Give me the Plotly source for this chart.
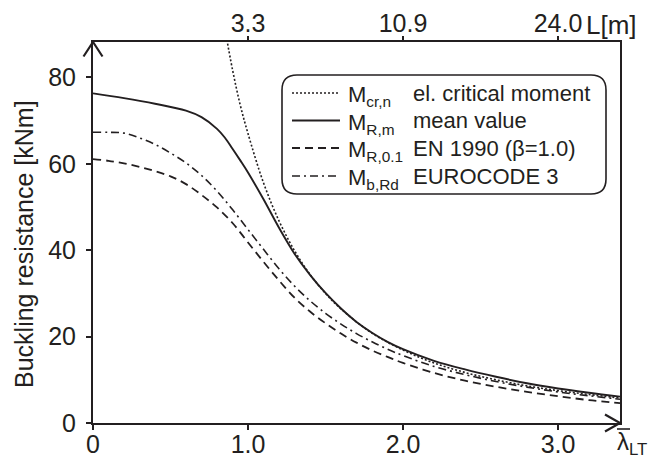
import plotly.graph_objects as go

# ---------------- data ----------------
lam_cr = [0.85, 0.9, 0.95, 1.0, 1.1, 1.2, 1.3, 1.4, 1.5, 1.6, 1.8, 2.0, 2.2, 2.4, 2.6, 2.8, 3.0, 3.2, 3.4]
m_cr = [91.5, 81.8, 73.6, 67.0, 55.6, 46.8, 39.9, 34.4, 30.0, 26.4, 20.8, 16.9, 13.9, 11.7, 10.0, 8.6, 7.5, 6.6, 5.8]

lam_m = [0, 0.2, 0.4, 0.6, 0.7, 0.8, 0.85, 0.9, 0.95, 1.0, 1.1, 1.2, 1.3, 1.4, 1.5, 1.6, 1.7, 1.8, 1.9,
         2.0, 2.2, 2.4, 2.6, 2.8, 3.0, 3.2, 3.4]
m_m = [76.3, 75.2, 73.9, 72.3, 70.8, 68.1, 66.1, 63.5, 60.8, 58.0, 51.8, 45.2, 39.2, 34.3, 30.1, 26.5,
       23.4, 20.9, 18.8, 17.1, 14.4, 12.4, 10.7, 9.2, 8.0, 7.0, 6.1]

lam_ec = [0, 0.1, 0.2, 0.3, 0.4, 0.5, 0.6, 0.7, 0.8, 0.9, 1.0, 1.1, 1.2, 1.3, 1.4, 1.5, 1.6, 1.7, 1.8,
          1.9, 2.0, 2.2, 2.4, 2.6, 2.8, 3.0, 3.2, 3.4]
m_brd = [67.3, 67.3, 67.1, 66.0, 64.5, 62.5, 60.2, 57.3, 53.7, 49.4, 44.8, 40.2, 35.7, 31.7, 28.3, 25.4,
         22.9, 20.7, 18.8, 17.1, 15.6, 13.1, 11.2, 9.6, 8.3, 7.2, 6.3, 5.5]
m_r01 = [61.1, 60.7, 60.1, 59.3, 58.3, 57.1, 55.3, 52.8, 49.9, 46.3, 41.8, 37.3, 33.0, 29.0, 25.8, 23.1,
         20.7, 18.6, 16.8, 15.3, 13.9, 11.6, 9.8, 8.4, 7.2, 6.2, 5.3, 4.6]

x_ticks = [0, 1, 2, 3]
x_ticktext = ["0", "1.0", "2.0", "3.0"]
top_ticks = [1, 2, 3]
top_ticktext = ["3.3", "10.9", "24.0"]
y_ticks = [0, 20, 40, 60, 80]

legend_symbols = ["M<sub>cr,n</sub>", "M<sub>R,m</sub>", "M<sub>R,0.1</sub>", "M<sub>b,Rd</sub>"]
legend_texts = ["el. critical moment", "mean value", "EN 1990 (β=1.0)", "EUROCODE 3"]

# ---------------- styling ----------------
W, H = 667, 460
L, R, T, B = 93, 47, 42, 37
PW, PH = W - L - R, H - T - B
INK = "#231f20"
FONT = "Liberation Sans, Arial, sans-serif"

DOT = "2px,2px"
DASH = "8px,5px"
DASHDOT = "8px,4px,2px,4px"
styles = [dict(dash=DOT, width=1.6), dict(dash="solid", width=1.9),
          dict(dash=DASH, width=1.8), dict(dash=DASHDOT, width=1.6)]


def px(x):
    return (x - L) / PW


def py(y):
    return (H - B - y) / PH


fig = go.Figure()
fig.add_trace(go.Scatter(x=lam_cr, y=m_cr, mode="lines", line=dict(color=INK, shape="spline", **styles[0]),
                         xaxis="x2", showlegend=False, hoverinfo="skip"))
fig.add_trace(go.Scatter(x=lam_m, y=m_m, mode="lines", line=dict(color=INK, shape="spline", **styles[1]),
                         showlegend=False))
fig.add_trace(go.Scatter(x=lam_ec, y=m_r01, mode="lines", line=dict(color=INK, shape="spline", **styles[2]),
                         showlegend=False))
fig.add_trace(go.Scatter(x=lam_ec, y=m_brd, mode="lines", line=dict(color=INK, shape="spline", **styles[3]),
                         showlegend=False))

axis_common = dict(showgrid=False, zeroline=False, linecolor=INK, linewidth=2, ticks="outside",
                   ticklen=5, tickwidth=1.5, tickcolor=INK, automargin=False,
                   tickfont=dict(family=FONT, size=25, color=INK))

fig.update_layout(
    width=W, height=H, margin=dict(l=L, r=R, t=T, b=B, autoexpand=False),
    paper_bgcolor="white", plot_bgcolor="white",
    xaxis=dict(range=[0, 3.4], tickvals=x_ticks, ticktext=x_ticktext, showline=True, mirror=True,
               ticklabelstandoff=-7, **axis_common),
    xaxis2=dict(range=[0, 3.4], overlaying="x", side="top", tickvals=top_ticks, ticktext=top_ticktext,
                showline=False, ticklabelstandoff=-6, **axis_common),
    yaxis=dict(range=[0, 88.2], tickvals=y_ticks, showline=True, mirror=True,
               ticklabelstandoff=5, **axis_common),
    showlegend=False,
)

shapes = []
# axis arrows
shapes.append(dict(type="path", xref="paper", yref="paper",
                   path=f"M {px(83.5)} {py(56.5)} L {px(93)} {py(42)} L {px(102.5)} {py(56.5)}",
                   line=dict(color=INK, width=2.2)))
shapes.append(dict(type="path", xref="paper", yref="paper",
                   path=f"M {px(605)} {py(414.5)} L {px(620)} {py(423)} L {px(605)} {py(431.5)}",
                   line=dict(color=INK, width=2.2)))

# legend box with rounded corners
bx0, bx1, by0, by1, r = 282, 606, 75, 194, 15
path = (f"M {px(bx0 + r)} {py(by0)} L {px(bx1 - r)} {py(by0)} "
        f"Q {px(bx1)} {py(by0)} {px(bx1)} {py(by0 + r)} L {px(bx1)} {py(by1 - r)} "
        f"Q {px(bx1)} {py(by1)} {px(bx1 - r)} {py(by1)} L {px(bx0 + r)} {py(by1)} "
        f"Q {px(bx0)} {py(by1)} {px(bx0)} {py(by1 - r)} L {px(bx0)} {py(by0 + r)} "
        f"Q {px(bx0)} {py(by0)} {px(bx0 + r)} {py(by0)} Z")
shapes.append(dict(type="path", xref="paper", yref="paper", path=path,
                   line=dict(color=INK, width=1.6), fillcolor="white", layer="above"))

rows = [93, 120.5, 148, 176]
annotations = []
for i, yy in enumerate(rows):
    shapes.append(dict(type="line", xref="paper", yref="paper", x0=px(292), x1=px(340), y0=py(yy), y1=py(yy),
                       line=dict(color=INK, **styles[i])))
    annotations.append(dict(xref="paper", yref="paper", x=px(346), y=py(yy + 3), xanchor="left",
                            yanchor="middle", text=legend_symbols[i], showarrow=False,
                            font=dict(family=FONT, size=22, color=INK)))
    annotations.append(dict(xref="paper", yref="paper", x=px(411), y=py(yy), xanchor="left",
                            yanchor="middle", text=legend_texts[i], showarrow=False,
                            font=dict(family=FONT, size=22, color=INK)))

annotations.append(dict(xref="paper", yref="paper", x=px(24), y=py(244), text="Buckling resistance [kNm]",
                        textangle=-90, showarrow=False, xanchor="center", yanchor="middle",
                        font=dict(family=FONT, size=25, color=INK)))
annotations.append(dict(xref="paper", yref="paper", x=px(584), y=py(25), text="L[m]", xanchor="left",
                        yanchor="middle", showarrow=False, font=dict(family=FONT, size=26, color=INK)))
annotations.append(dict(xref="paper", yref="paper", x=px(615), y=py(443), text="λ<sub>LT</sub>",
                        xanchor="left", yanchor="middle", showarrow=False,
                        font=dict(family=FONT, size=24, color=INK)))
# overbar of lambda
shapes.append(dict(type="line", xref="paper", yref="paper", x0=px(617), x1=px(630), y0=py(429),
                   y1=py(429), line=dict(color=INK, width=1.6)))

fig.update_layout(shapes=shapes, annotations=annotations)
fig.write_html("out.html", config={"displayModeBar": False},
               post_script="document.body.style.margin='0';document.body.style.padding='0';")
